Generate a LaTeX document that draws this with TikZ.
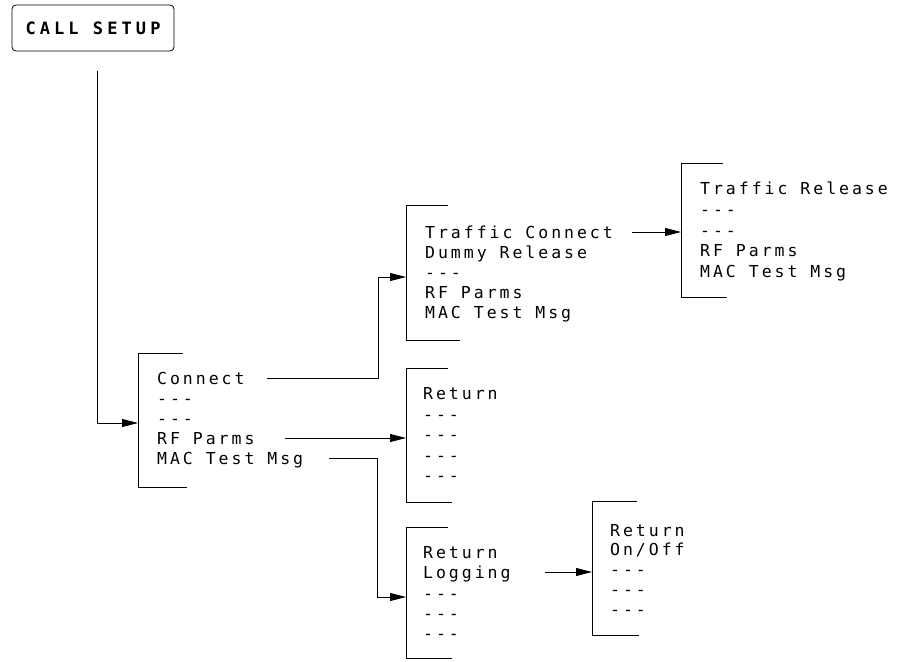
\documentclass[tikz,border=0pt]{standalone}
\usepackage{fontspec}
\usetikzlibrary{arrows.meta, calc}
\newfontfamily\menufont{DejaVu Sans Mono}[LetterSpace=18]
\newfontfamily\keyfont{DejaVu Sans Mono}[LetterSpace=24]

\begin{document}
\begin{tikzpicture}[x=1pt, y=-1pt,
    item/.style={anchor=west, inner sep=0pt, text height=12pt, text depth=0pt,
      font=\menufont\fontsize{16.5}{18}\selectfont},
    bracket/.style={line width=0.8pt},
    link/.style={line width=0.8pt},
    arr/.style={link, -{Triangle[length=16pt, width=8pt]}}]
  \useasboundingbox (0,0) rectangle (915,661);

  % hardkey
  \node[draw, rounded corners=4pt, line width=0.8pt, minimum width=162pt,
    minimum height=46pt, font=\keyfont\bfseries\fontsize{17}{19}\selectfont]
    (call) at (93,28) {CALL SETUP};

  % menu brackets
  \coordinate (main-top) at (138,353);  \coordinate (main-bot) at (138,487);
  \coordinate (tc-top) at (406,205);    \coordinate (tc-bot) at (406,340);
  \coordinate (tr-top) at (681,163);    \coordinate (tr-bot) at (681,297);
  \coordinate (ret-top) at (406,368);   \coordinate (ret-bot) at (406,502);
  \coordinate (log-top) at (406,527);   \coordinate (log-bot) at (406,658);
  \coordinate (oo-top) at (592,501);    \coordinate (oo-bot) at (592,635);
  \coordinate (main-in) at (138,423);
  \coordinate (tc-in) at (406,277);
  \coordinate (log-in) at (406,597);

  \draw[bracket] ([xshift=45pt]main-top) -- (main-top) -- (main-bot) -- ++(49,0);
  \draw[bracket] ([xshift=42pt]tc-top) -- (tc-top) -- (tc-bot) -- ++(54,0);
  \draw[bracket] ([xshift=42pt]tr-top) -- (tr-top) -- (tr-bot) -- ++(46,0);
  \draw[bracket] ([xshift=42pt]ret-top) -- (ret-top) -- (ret-bot) -- ++(46,0);
  \draw[bracket] ([xshift=42pt]log-top) -- (log-top) -- (log-bot) -- ++(46,0);
  \draw[bracket] ([xshift=45pt]oo-top) -- (oo-top) -- (oo-bot) -- ++(47,0);

  % main menu
  \node[item] (conn) at (157,378) {Connect};
  \node[item] (m2) at (157,398) {---};
  \node[item] (m3) at (157,418) {---};
  \node[item] (mrf) at (157,438) {RF Parms};
  \node[item] (mmac) at (157,458) {MAC Test Msg};

  % connect menu
  \node[item] (tcc) at (425,232) {Traffic Connect};
  \node[item] (tcd) at (425,252) {Dummy Release};
  \node[item] (tc3) at (425,272) {---};
  \node[item] (tcrf) at (425,292) {RF Parms};
  \node[item] (tcmac) at (425,312) {MAC Test Msg};

  % traffic menu
  \node[item] (trr) at (700,188) {Traffic Release};
  \node[item] (tr2) at (700,209) {---};
  \node[item] (tr3) at (700,230) {---};
  \node[item] (trrf) at (700,250) {RF Parms};
  \node[item] (trmac) at (700,271) {MAC Test Msg};

  % rf parms menu
  \node[item] (rret) at (423,393) {Return};
  \node[item] (r2) at (423,414) {---};
  \node[item] (r3) at (423,434) {---};
  \node[item] (r4) at (423,455) {---};
  \node[item] (r5) at (423,475) {---};

  % mac test msg menu
  \node[item] (lret) at (423,552) {Return};
  \node[item] (llog) at (423,572) {Logging};
  \node[item] (l3) at (423,593) {---};
  \node[item] (l4) at (423,613) {---};
  \node[item] (l5) at (423,633) {---};

  % logging menu
  \node[item] (oret) at (610,530) {Return};
  \node[item] (oon) at (610,549) {On/Off};
  \node[item] (o3) at (610,569) {---};
  \node[item] (o4) at (610,589) {---};
  \node[item] (o5) at (610,609) {---};

  % connectors
  \draw[arr, shorten <=20pt] ([xshift=4pt]call.south) |- (main-in);
  \draw[arr, shorten <=22pt] (conn.east) -| ([xshift=-28pt]tc-in) -- (tc-in);
  \draw[arr, shorten <=30pt] (mrf.east) -- (mrf.east -| ret-top);
  \draw[arr, shorten <=26pt] (mmac.east) -| ([xshift=-29pt]log-in) -- (log-in);
  \draw[arr, shorten <=19pt] (tcc.east) -- (tcc.east -| tr-top);
  \draw[arr, shorten <=34pt] (llog.east) -- (llog.east -| oo-top);
\end{tikzpicture}
\end{document}
